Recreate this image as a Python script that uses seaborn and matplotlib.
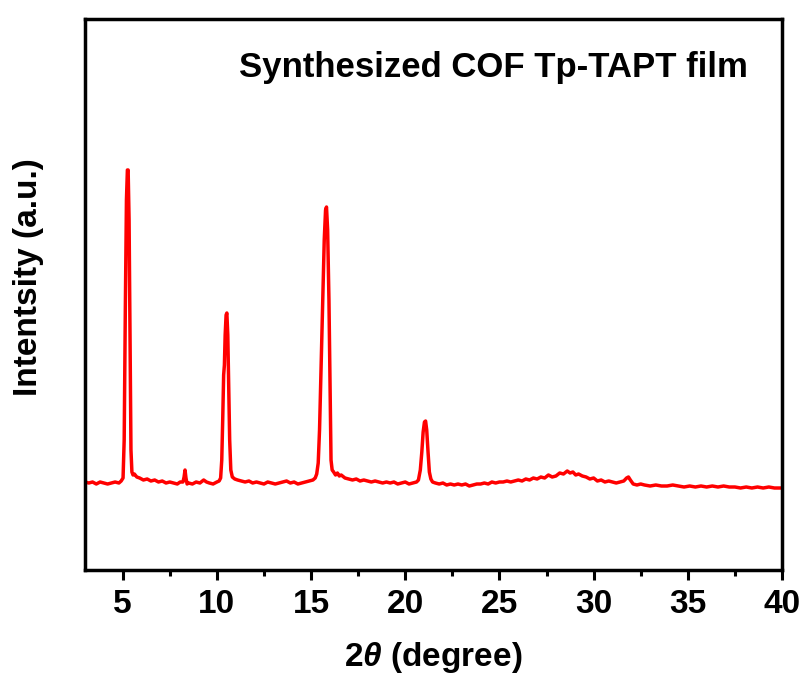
import matplotlib
matplotlib.use("Agg")
import matplotlib.pyplot as plt
import seaborn as sns
import pandas as pd
from matplotlib.ticker import MultipleLocator

sns.set_style("ticks")
plt.rcParams['font.family'] = ['Liberation Sans', 'DejaVu Sans']
plt.rcParams['font.weight'] = 'bold'
plt.rcParams['mathtext.fontset'] = 'custom'
plt.rcParams['mathtext.it'] = 'Liberation Sans:italic:bold'
plt.rcParams['mathtext.rm'] = 'Liberation Sans:bold'
plt.rcParams['text.color'] = 'black'
plt.rcParams['axes.labelcolor'] = 'black'
plt.rcParams['xtick.color'] = 'black'
plt.rcParams['ytick.color'] = 'black'

# ---- data (2theta in degree, intensity in a.u.) ----
two_theta = [
    3.0, 3.2, 3.4, 3.6, 3.8, 4.0, 4.2, 4.4, 4.6, 4.8, 4.92,
    5.02, 5.08, 5.14, 5.20, 5.25, 5.29, 5.34, 5.39, 5.44, 5.49, 5.55, 5.62,
    5.75, 5.9, 6.1, 6.3, 6.5, 6.7, 6.9, 7.1, 7.3, 7.5, 7.7, 7.9, 8.05,
    8.2, 8.26, 8.31, 8.36, 8.42,
    8.5, 8.7, 8.9, 9.1, 9.3, 9.45, 9.6, 9.8, 10.0, 10.12,
    10.2, 10.26, 10.31, 10.36, 10.40, 10.44, 10.49, 10.53, 10.58, 10.63, 10.68, 10.74,
    10.82, 10.95, 11.1, 11.3, 11.5, 11.7, 11.9, 12.1, 12.3, 12.5, 12.7, 12.9,
    13.1, 13.3, 13.5, 13.7, 13.9, 14.1, 14.3, 14.5, 14.7, 14.9, 15.1, 15.22,
    15.3, 15.38, 15.45, 15.53, 15.62, 15.70, 15.77, 15.82, 15.88, 15.95, 16.01, 16.06,
    16.12, 16.2, 16.3, 16.4, 16.5, 16.6, 16.8, 17.0, 17.2, 17.4, 17.6, 17.8,
    18.0, 18.2, 18.4, 18.6, 18.8, 19.0, 19.2, 19.4, 19.6, 19.8, 20.0, 20.2, 20.4, 20.6,
    20.7, 20.8, 20.88, 20.95, 21.02, 21.08, 21.14, 21.21, 21.28, 21.36, 21.45,
    21.6, 21.8, 22.0, 22.2, 22.4, 22.6, 22.8, 23.0, 23.2, 23.4, 23.6, 23.8,
    24.0, 24.2, 24.4, 24.6, 24.8, 25.0, 25.2, 25.4, 25.6, 25.8, 26.0, 26.2,
    26.4, 26.6, 26.8, 27.0, 27.2, 27.4, 27.6, 27.8, 28.0, 28.2, 28.4, 28.6,
    28.75, 28.9, 29.05, 29.2, 29.4, 29.6, 29.8, 30.0, 30.2, 30.4, 30.6, 30.8,
    31.0, 31.2, 31.4, 31.6, 31.75, 31.85, 31.95, 32.1, 32.3, 32.5, 32.7, 33.0,
    33.3, 33.6, 33.9, 34.2, 34.5, 34.8, 35.1, 35.4, 35.7, 36.0, 36.3, 36.6,
    36.9, 37.2, 37.5, 37.8, 38.1, 38.4, 38.7, 39.0, 39.3, 39.6, 40.0,
]
intensity = [
    88, 87, 88, 86, 88, 87, 86, 87, 88, 87, 89,
    92, 130, 260, 370, 400, 400, 350, 230, 120, 98, 95, 96,
    93, 92, 90, 91, 89, 90, 88, 89, 87, 88, 87, 86, 88,
    88, 93, 100, 92, 86,
    87, 86, 88, 87, 90, 88, 87, 86, 88, 89,
    92, 110, 150, 195, 205, 235, 255, 257, 235, 180, 130, 100,
    93, 91, 90, 89, 88, 89, 87, 88, 87, 86, 88, 87,
    86, 87, 88, 89, 87, 88, 86, 87, 88, 89, 90, 92,
    96, 107, 140, 200, 270, 330, 360, 363, 340, 270, 180, 110,
    100, 98, 95, 97, 94, 95, 92, 91, 90, 91, 89, 90,
    89, 88, 89, 88, 87, 88, 87, 88, 86, 87, 88, 86, 87, 88,
    90, 100, 118, 138, 148, 149, 140, 118, 98, 91, 88,
    87, 86, 87, 85, 86, 85, 86, 85, 86, 84, 85, 86,
    86, 87, 86, 88, 87, 88, 88, 89, 88, 89, 90, 89,
    91, 90, 92, 91, 93, 92, 95, 93, 94, 97, 96, 99,
    97, 98, 95, 96, 94, 93, 91, 92, 89, 90, 88, 89,
    88, 87, 88, 89, 92, 93, 90, 86, 85, 86, 85, 84,
    85, 84, 84, 85, 84, 83, 84, 83, 84, 83, 84, 83,
    84, 83, 83, 82, 83, 82, 83, 82, 83, 82, 82,
]
x_ticks = [5, 10, 15, 20, 25, 30, 35, 40]
title_text = "Synthesized COF Tp-TAPT film"
x_label = r"2$\theta$ (degree)"
y_label = "Intentsity (a.u.)"

df = pd.DataFrame({"two_theta": two_theta, "intensity": intensity})

fig = plt.figure(figsize=(8.02, 6.77), dpi=100)
ax = fig.add_axes([85 / 802, 1 - 570 / 677, 697 / 802, 551 / 677])

sns.lineplot(data=df, x="two_theta", y="intensity", ax=ax, color="#ff0000",
             linewidth=2.5, estimator=None, sort=False)

ax.set_xlim(3, 40)
ax.set_ylim(0, 551)
ax.set_xticks(x_ticks)
ax.xaxis.set_minor_locator(MultipleLocator(2.5))
ax.set_yticks([])

for s in ax.spines.values():
    s.set_linewidth(2.5)
    s.set_color("black")
    s.set_visible(True)

ax.tick_params(axis="x", which="major", direction="out", length=7, width=2.2,
               labelsize=24, pad=7, color="black", labelcolor="black")
ax.tick_params(axis="x", which="minor", direction="out", length=4, width=2.2,
               color="black")
for lab in ax.get_xticklabels():
    lab.set_fontweight("bold")

ax.set_xlabel(x_label, fontsize=24, fontweight="bold", labelpad=14)
ax.set_ylabel(y_label, fontsize=24, fontweight="bold")
ax.yaxis.set_label_coords(-0.0595, 0.532)

ax.text((748 - 85) / 697, (570 - 77) / 551, title_text, transform=ax.transAxes,
        ha="right", va="baseline", fontsize=25, fontweight="bold")

fig.savefig("out.png", dpi=100)
